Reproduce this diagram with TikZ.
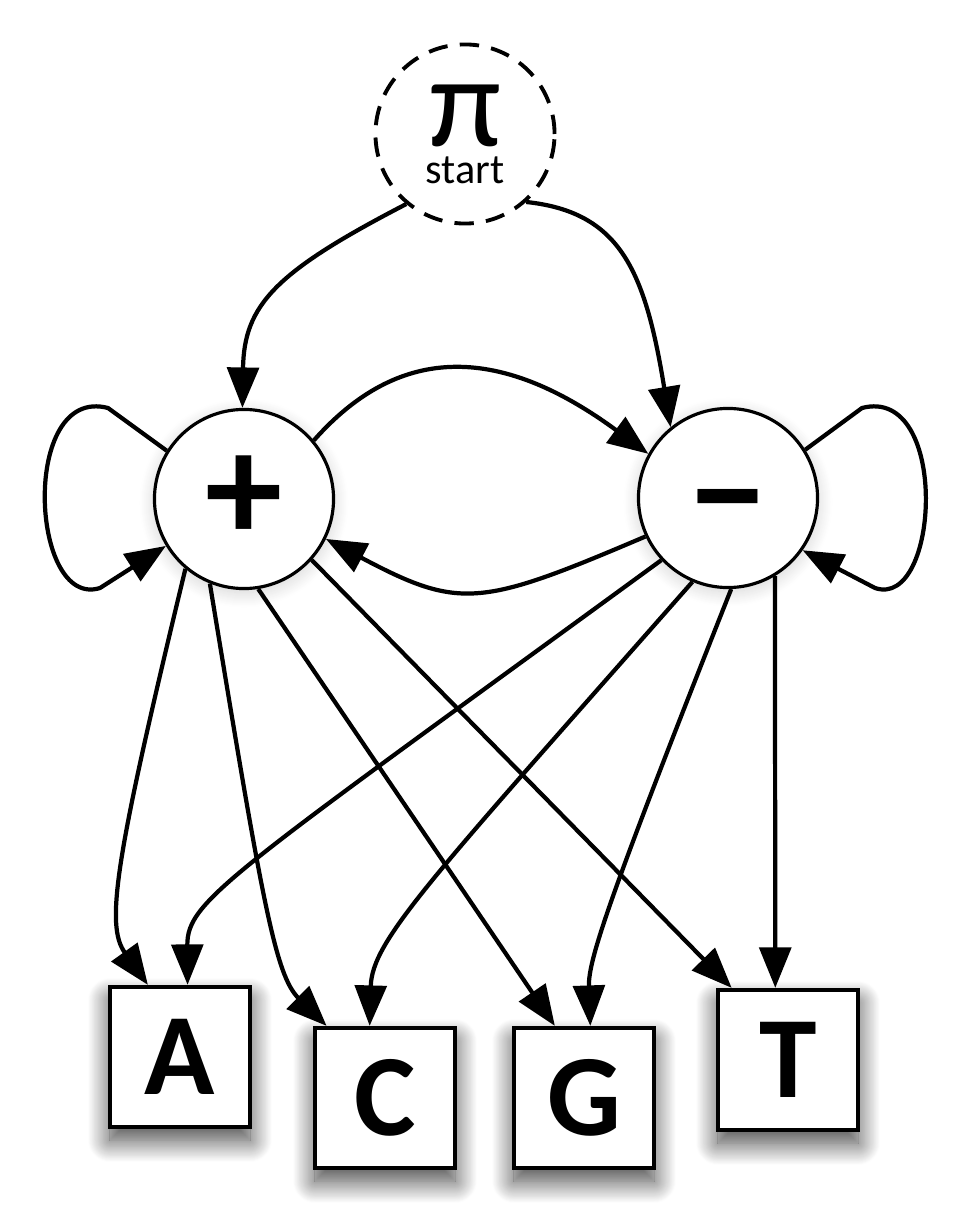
\documentclass[tikz,border=0pt]{standalone}
\usepackage{fontspec}
\setmainfont{Carlito}
\usetikzlibrary{arrows.meta,shadows.blur}

\begin{document}
\begin{tikzpicture}
  [x=0.01cm,y=-0.01cm,
   every node/.style={draw,fill=white,inner sep=0pt,line width=0.9pt},
   state/.style={circle,minimum size=1.79cm,font=\fontsize{44}{44}\selectfont\bfseries,
     blur shadow={shadow xshift=0pt,shadow yshift=-0.4mm,shadow blur radius=1.5mm,shadow blur steps=15,shadow opacity=18}},
   startstate/.style={circle,minimum size=1.79cm,line width=1.1pt,dash pattern=on 5.5pt off 3.5pt,align=center},
   emit/.style={rectangle,minimum size=1.40cm,line width=1.2pt,font=\fontsize{33}{33}\selectfont\bfseries,
     blur shadow={shadow xshift=0pt,shadow yshift=-1.3mm,shadow blur radius=2.2mm,shadow blur steps=25,shadow opacity=75}},
   edge/.style={line width=1.2pt,-{Triangle[length=11.5pt,width=9pt]}}]
  \useasboundingbox (0,0) rectangle (974,1216);

  \node[startstate] (pi) at (465,134)
    {{\fontsize{37}{37}\selectfont π}\\[-1.5pt]{\fontsize{12}{12}\selectfont start}};
  \node[state] (plus) at (244,499)  {+};
  \node[state] (minus) at (728,498) {\raisebox{-0.31em}[0pt][0pt]{−}};
  \node[emit] (A) at (180,1057) {A};
  \node[emit] (C) at (385,1098) {C};
  \node[emit] (G) at (584,1098) {G};
  \node[emit] (T) at (788,1060) {T};

  % start
  \draw[edge] (pi.230) .. controls (275,272) and (244,305) .. (plus.91);
  \draw[edge] (pi.312) .. controls (620,212) and (645,270) .. (minus.129);
  % switching and staying
  \draw[edge] (plus.40) .. controls (385,360) and (480,330) .. (minus.151);
  \draw[edge] (minus.205) .. controls (480,607) and (460,610) .. (plus.334);
  \draw[edge] (plus.148) -- (108,408) .. controls (20,385) and (30,610) .. (100,588) -- (plus.211);
  \draw[edge] (minus.32) -- (862,408) .. controls (950,385) and (940,610) .. (875,588) -- (minus.325);
  % emissions
  \draw[edge] (plus.230) .. controls (115,860) and (105,925) .. (A.114);
  \draw[edge] (plus.248) .. controls (262,900) and (275,975) .. (C.129);
  \draw[edge] (minus.223) .. controls (230,875) and (187,900) .. (A.84);
  \draw[edge] (minus.247) .. controls (430,880) and (372,940) .. (C.102);
  \draw[edge] (minus.272) .. controls (610,895) and (588,960) .. (G.85);
  \foreach \from/\to in {plus.279/G.112,plus.318/T.128,minus.301/T.100}
    \draw[edge] (\from) -- (\to);
\end{tikzpicture}
\end{document}
